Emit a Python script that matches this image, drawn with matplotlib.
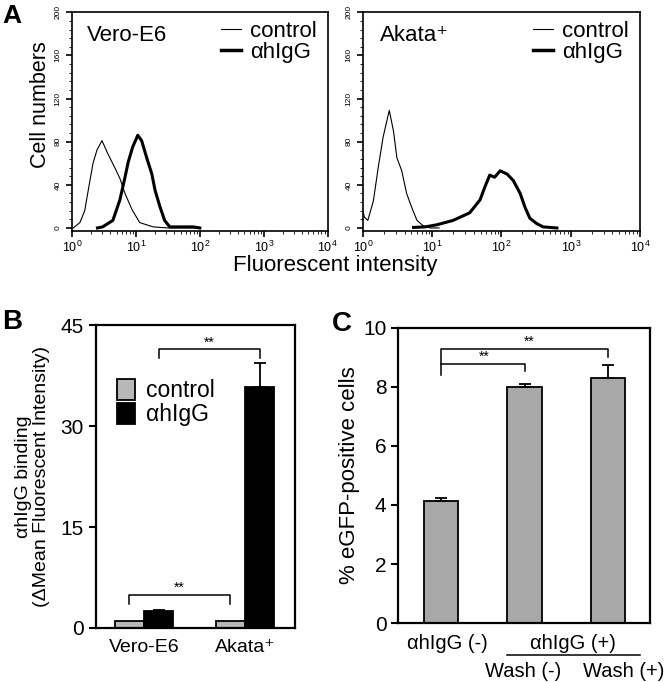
import numpy as np
import matplotlib
matplotlib.use("Agg")
import matplotlib.pyplot as plt
from matplotlib.ticker import MultipleLocator, LogLocator, NullFormatter
from matplotlib.lines import Line2D
from matplotlib.patches import Patch

plt.rcParams['font.family'] = ['Liberation Sans', 'DejaVu Sans']
plt.rcParams['mathtext.fontset'] = 'custom'
plt.rcParams['mathtext.rm'] = 'Liberation Sans'

# ---- data ----
# panel A: histograms, x = log10(fluorescent intensity), y = cell numbers
vero_ctrl_x = [0.02, 0.125, 0.2, 0.27, 0.33, 0.39, 0.47, 0.56, 0.67, 0.75, 0.83, 0.94, 1.06, 1.27, 1.5, 2.0]
vero_ctrl_y = [0, 5, 16, 40, 60, 72, 81, 69, 56, 46, 32, 17, 5, 1, 0, 0]
vero_igg_x = [0.4, 0.48, 0.64, 0.75, 0.83, 0.88, 0.95, 1.03, 1.09, 1.17, 1.25, 1.3, 1.375, 1.45, 1.53, 1.7, 1.9, 2.0]
vero_igg_y = [0, 1, 7, 26, 47, 61, 75, 86, 81, 65, 50, 35, 20, 7, 1, 1, 1, 0]
akata_ctrl_x = [0.0, 0.02, 0.07, 0.15, 0.22, 0.29, 0.34, 0.38, 0.44, 0.49, 0.56, 0.63, 0.71, 0.78, 0.87, 0.97, 1.1]
akata_ctrl_y = [16, 10, 7, 25, 56, 84, 98, 109, 90, 65, 53, 32, 18, 7, 2, 0, 0]
akata_igg_x = [0.73, 0.9, 1.07, 1.3, 1.54, 1.69, 1.76, 1.83, 1.9, 1.98, 2.08, 2.17, 2.27, 2.34, 2.41, 2.51, 2.6, 2.8]
akata_igg_y = [0.5, 1, 3, 7, 14, 26, 38, 49, 47, 53, 50, 44, 32, 19, 9, 4, 1, 0]

# panel B
cells_b = ['Vero-E6', 'Akata⁺']
ctrl_b = [1.0, 1.0]
igg_b = [2.5, 35.8]
igg_b_err = [0.2, 3.6]

# panel C
vals_c = [4.15, 8.0, 8.3]
err_c = [0.1, 0.1, 0.45]

fig = plt.figure(figsize=(6.66, 6.82), dpi=100)

# ---------------- panel A ----------------
def hist_axes(rect, cx, cy, ix, iy, name):
    ax = fig.add_axes(rect)
    ax.plot(10 ** np.array(cx), cy, color='black', lw=0.8)
    ax.plot(10 ** np.array(ix), iy, color='black', lw=2.2)
    ax.set_xscale('log')
    ax.set_xlim(1, 1e4)
    ax.set_ylim(-3, 200)
    ax.set_yticks([0, 40, 80, 120, 160, 200])
    ax.yaxis.set_minor_locator(MultipleLocator(8))
    ax.xaxis.set_minor_locator(LogLocator(base=10, subs=np.arange(2, 10)))
    ax.xaxis.set_minor_formatter(NullFormatter())
    ax.tick_params(axis='y', which='major', labelsize=6, labelrotation=90, length=4, width=1.2)
    ax.tick_params(axis='y', which='minor', length=2)
    ax.tick_params(axis='x', which='major', labelsize=9, length=4, width=1.2, pad=2)
    ax.tick_params(axis='x', which='minor', length=2)
    for lab in ax.get_yticklabels():
        lab.set_verticalalignment('center')
    for s in ax.spines.values():
        s.set_linewidth(1.2)
    ax.text(0.06, 0.94, name, transform=ax.transAxes, fontsize=16, va='top')
    h = [Line2D([], [], color='black', lw=0.8), Line2D([], [], color='black', lw=2.5)]
    ax.legend(h, ['control', 'αhIgG'], loc='upper right', frameon=False, fontsize=16,
              handlelength=0.9, handletextpad=0.4, labelspacing=0.0,
              borderaxespad=0.1, bbox_to_anchor=(1.0, 1.01))
    return ax

axA1 = hist_axes([0.108, 0.661, 0.384, 0.321], vero_ctrl_x, vero_ctrl_y,
                 vero_igg_x, vero_igg_y, 'Vero-E6')
axA2 = hist_axes([0.545, 0.661, 0.416, 0.321], akata_ctrl_x, akata_ctrl_y,
                 akata_igg_x, akata_igg_y, 'Akata⁺')
fig.text(40 / 666, 1 - 105 / 682, 'Cell numbers', rotation=90, fontsize=15.5,
         ha='center', va='center')
fig.text(335 / 666, 1 - 266 / 682, 'Fluorescent intensity', fontsize=16,
         ha='center', va='center')

# ---------------- panel B ----------------
axB = fig.add_axes([0.144, 0.0792, 0.299, 0.444])
xb = np.arange(len(cells_b))
w = 0.29
axB.bar(xb - w / 2, ctrl_b, w, color='#b8b8b8', edgecolor='black', lw=1.3)
axB.bar(xb + w / 2, igg_b, w, color='black', edgecolor='black', lw=1.3)
axB.errorbar(xb + w / 2, igg_b, yerr=[np.zeros(2), igg_b_err], fmt='none',
             ecolor='black', elinewidth=1.3, capsize=4, capthick=1.3)
axB.set_xlim(-0.475, 1.495)
axB.set_ylim(0, 45)
axB.set_yticks([0, 15, 30, 45])
axB.set_xticks(xb)
axB.set_xticklabels(cells_b)
axB.tick_params(axis='x', length=0, labelsize=14, pad=8)
axB.tick_params(axis='y', labelsize=15, length=5, width=1.5)
for s in axB.spines.values():
    s.set_linewidth(1.6)
axB.set_ylabel('αhIgG binding\n(ΔMean Fluorescent Intensity)', fontsize=14,
               labelpad=8, linespacing=1.05)

# significance brackets (B)
def bracket(ax, x1, x2, y, yl, yr, star_x, size=10):
    ax.plot([x1, x1, x2, x2], [yl, y, y, yr], color='black', lw=1.1)
    ax.text(star_x, y, '**', ha='center', va='bottom', fontsize=size)

bracket(axB, 0 + w / 2, 1 + w / 2, 41.4, 40.1, 40.1, 0.65)
bracket(axB, 0 - w / 2, 1 - w / 2, 4.9, 3.6, 3.6, 0.35)

legB = axB.legend([Patch(facecolor='#b8b8b8', edgecolor='black', lw=1.3),
                   Patch(facecolor='black', edgecolor='black', lw=1.3)],
                  ['control', 'αhIgG'], loc='upper left', frameon=False,
                  fontsize=16.5, handlelength=0.8, handleheight=1.0,
                  handletextpad=0.5, labelspacing=0.05,
                  bbox_to_anchor=(0.0, 0.89))

# ---------------- panel C ----------------
axC = fig.add_axes([0.598, 0.0865, 0.378, 0.4326])
xc = np.arange(len(vals_c))
wc = 0.41
axC.bar(xc, vals_c, wc, color='#a8a8a8', edgecolor='black', lw=1.3)
axC.errorbar(xc, vals_c, yerr=[np.zeros(3), err_c], fmt='none', ecolor='black',
             elinewidth=1.3, capsize=4, capthick=1.3)
axC.set_xlim(-0.51, 2.5)
axC.set_ylim(0, 10)
axC.set_yticks([0, 2, 4, 6, 8, 10])
axC.set_xticks([])
axC.tick_params(axis='y', labelsize=15, length=5, width=1.5)
for s in axC.spines.values():
    s.set_linewidth(1.6)
axC.set_ylabel('% eGFP-positive cells', fontsize=16, labelpad=2)

axC.plot([0, 0, 2, 2], [8.4, 9.29, 9.29, 9.0], color='black', lw=1.1)
axC.text(1.05, 9.29, '**', ha='center', va='bottom', fontsize=10)
axC.plot([0, 1, 1], [8.78, 8.78, 8.54], color='black', lw=1.1)
axC.text(0.52, 8.78, '**', ha='center', va='bottom', fontsize=10)

tr = axC.get_xaxis_transform()
axC.text(0.08, -0.068, 'αhIgG (-)', transform=tr, ha='center', va='center', fontsize=14.5)
axC.text(1.58, -0.068, 'αhIgG (+)', transform=tr, ha='center', va='center', fontsize=14.5)
axC.plot([0.79, 2.38], [-0.108, -0.108], transform=tr, color='black', lw=1.1,
         clip_on=False)
axC.text(0.98, -0.166, 'Wash (-)', transform=tr, ha='center', va='center', fontsize=14.5)
axC.text(2.18, -0.166, 'Wash (+)', transform=tr, ha='center', va='center', fontsize=14.5)

# panel letters
fig.text(2 / 666, 1 - 23 / 682, 'A', fontsize=19, fontweight='bold', va='baseline')
fig.text(2 / 666, 1 - 322 / 682, 'B', fontsize=20, fontweight='bold', va='center')
fig.text(332 / 666, 1 - 324 / 682, 'C', fontsize=20, fontweight='bold', va='center')

fig.savefig('out.png', dpi=100)
